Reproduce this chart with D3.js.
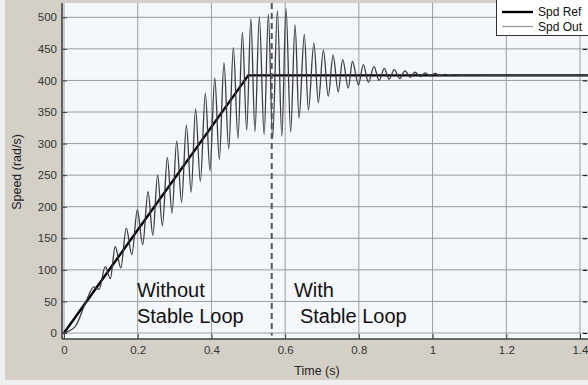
<!DOCTYPE html>
<html>
<head>
<meta charset="utf-8">
<script src="https://cdn.jsdelivr.net/npm/d3@7"></script>
<style>
  html, body { margin: 0; padding: 0; background: #efefef; }
  svg { display: block; font-family: "Liberation Sans", Arial, sans-serif; }
</style>
</head>
<body>
<svg id="chart" width="588" height="385"></svg>
<script>
// speed reference (ramp then hold)
const refTime = [0, 0.5, 1.45];
const refSpeed = [0, 408, 408];

// speed output at its peaks and troughs
const outTime = [0, 0.03, 0.058, 0.081, 0.095, 0.112, 0.1255, 0.139, 0.154, 0.169,
  0.184, 0.199, 0.2135, 0.228, 0.241, 0.254, 0.267, 0.2804, 0.293, 0.3057,
  0.319, 0.332, 0.345, 0.357, 0.370, 0.3835, 0.396, 0.409, 0.4215, 0.434,
  0.447, 0.4595, 0.472, 0.484, 0.4957, 0.507, 0.518, 0.530, 0.543, 0.5545,
  0.566, 0.579, 0.591, 0.6024, 0.615, 0.6269, 0.6377, 0.652, 0.663, 0.678,
  0.690, 0.7037, 0.717, 0.730, 0.744, 0.756, 0.7715, 0.7825, 0.799, 0.812,
  0.826, 0.841, 0.855, 0.869, 0.882, 0.896, 0.911, 0.925, 0.94, 0.952,
  0.967, 0.98, 0.994, 1.007, 1.02, 1.034, 1.048, 1.06, 1.075, 1.09, 1.15, 1.45];
const outSpeed = [0, 10, 47, 73, 69, 105, 86, 137, 103, 166,
  124, 195, 140, 224, 155, 250, 170, 278, 190, 304,
  207, 329, 223, 355, 240, 380, 257, 404, 275, 428,
  292, 452, 308, 476, 321, 498, 319, 501, 314, 505,
  308, 510, 312, 514, 318, 488, 340, 473, 353, 459,
  365, 448, 375, 440, 382, 433, 388, 430, 393, 425,
  397, 422, 400, 419, 402, 417, 403, 415, 405, 413,
  406, 412, 407, 411, 407.5, 409.6, 407.6, 409.2, 407.9, 408.6, 408, 408];

const xTicks = [0, 0.2, 0.4, 0.6, 0.8, 1, 1.2, 1.4];
const yTicks = [0, 50, 100, 150, 200, 250, 300, 350, 400, 450, 500];
const loopOnTime = 0.5636;

const svg = d3.select("#chart");
const plot = { left: 62, right: 588, top: 3, bottom: 339 };

const x = d3.scaleLinear().domain([0, 1.4]).range([64, 580]);
const y = d3.scaleLinear().domain([0, 500]).range([333, 17.3]);

// figure background
svg.append("rect").attr("x", 5).attr("y", 0).attr("width", 583).attr("height", 380)
  .attr("fill", "#d4d0c8");

// axes area
svg.append("rect").attr("x", plot.left).attr("y", plot.top)
  .attr("width", plot.right - plot.left).attr("height", plot.bottom - plot.top)
  .attr("fill", "#f4f7fc");

svg.append("defs").append("clipPath").attr("id", "clip")
  .append("rect").attr("x", plot.left).attr("y", plot.top)
  .attr("width", plot.right - plot.left).attr("height", plot.bottom - plot.top);

// grid
const grid = svg.append("g").attr("stroke", "#9c9c9c").attr("stroke-width", 1);
grid.selectAll(".vg").data(xTicks).enter().append("line")
  .attr("x1", d => x(d)).attr("x2", d => x(d))
  .attr("y1", plot.top).attr("y2", plot.bottom);
grid.selectAll(".hg").data(yTicks).enter().append("line")
  .attr("x1", plot.left).attr("x2", plot.right)
  .attr("y1", d => y(d)).attr("y2", d => y(d));

// annotations
const notes = svg.append("g").attr("font-size", 20).attr("fill", "#111");
notes.append("text").attr("x", x(0.198)).attr("y", 297).text("Without");
notes.append("text").attr("x", x(0.198)).attr("y", 322.5).text("Stable Loop");
notes.append("text").attr("x", x(0.624)).attr("y", 297).text("With");
notes.append("text").attr("x", x(0.64)).attr("y", 322.5).text("Stable Loop");

const lines = svg.append("g").attr("clip-path", "url(#clip)");

// reference
const refLine = d3.line().x(d => x(d[0])).y(d => y(d[1]));
lines.append("path").datum(refTime.map((t, i) => [t, refSpeed[i]]))
  .attr("d", refLine).attr("fill", "none")
  .attr("stroke", "#000").attr("stroke-width", 2.4);

// output
const outLine = d3.line().x(d => x(d[0])).y(d => y(d[1])).curve(d3.curveMonotoneX);
lines.append("path").datum(outTime.map((t, i) => [t, outSpeed[i]]))
  .attr("d", outLine).attr("fill", "none")
  .attr("stroke", "#3c3c3c").attr("stroke-width", 1.3);

// loop switch marker
svg.append("line")
  .attr("x1", x(loopOnTime)).attr("x2", x(loopOnTime))
  .attr("y1", plot.top).attr("y2", y(-4))
  .attr("stroke", "#555").attr("stroke-width", 2)
  .attr("stroke-dasharray", "6,4");

// axes
const yAxis = svg.append("g").attr("transform", `translate(${plot.left},0)`)
  .call(d3.axisLeft(y).tickValues(yTicks).tickSize(-5).tickPadding(5).tickSizeOuter(0));
const xAxis = svg.append("g").attr("transform", `translate(0,${plot.bottom})`)
  .call(d3.axisBottom(x).tickValues(xTicks).tickSize(-5).tickPadding(7).tickSizeOuter(0)
    .tickFormat(d3.format("~g")));
svg.append("g").attr("transform", `translate(${plot.right - 1},0)`)
  .call(d3.axisRight(y).tickValues(yTicks).tickSize(-4).tickFormat("").tickSizeOuter(0))
  .select(".domain").remove();

[yAxis, xAxis].forEach(a => {
  a.select(".domain").attr("stroke", "#404040").attr("stroke-width", 1.6);
  a.selectAll(".tick line").attr("stroke", "#404040");
  a.selectAll(".tick text").attr("fill", "#333").attr("font-size", 11.5)
    .attr("font-family", "Liberation Sans, Arial, sans-serif");
});
yAxis.select(".domain").attr("d", `M0,${plot.top}V${plot.bottom}`);
xAxis.select(".domain").attr("d", `M${plot.left},0H${plot.right}`);

// axis labels
svg.append("text").attr("x", 317).attr("y", 375).attr("text-anchor", "middle")
  .attr("font-size", 12.5).attr("fill", "#222").text("Time (s)");
svg.append("text").attr("transform", `translate(21,172) rotate(-90)`)
  .attr("text-anchor", "middle").attr("font-size", 12.5).attr("fill", "#222")
  .text("Speed (rad/s)");

// legend
const legend = svg.append("g");
legend.append("rect").attr("x", 496.5).attr("y", -1).attr("width", 95).attr("height", 36.5)
  .attr("fill", "#fff").attr("stroke", "#333").attr("stroke-width", 1);
const legendItems = [
  { label: "Spd Ref", color: "#000", width: 2.4 },
  { label: "Spd Out", color: "#9a9a9a", width: 1.3 }
];
legendItems.forEach((d, i) => {
  const yy = 12 + i * 14.5;
  legend.append("line").attr("x1", 502).attr("x2", 533).attr("y1", yy).attr("y2", yy)
    .attr("stroke", d.color).attr("stroke-width", d.width);
  legend.append("text").attr("x", 538).attr("y", yy + 4).attr("font-size", 12)
    .attr("fill", "#111").text(d.label);
});
</script>
</body>
</html>
